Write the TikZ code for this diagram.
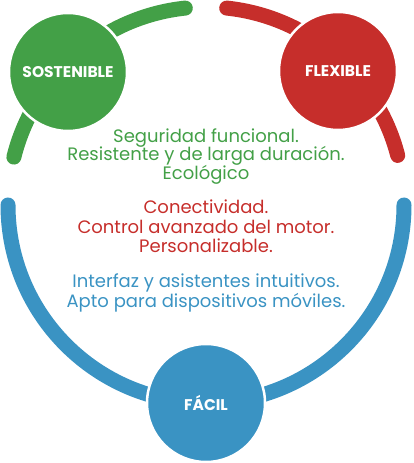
\documentclass[tikz,border=0pt]{standalone}
\usepackage{fontspec}
\usetikzlibrary{calc}
\setmainfont{Poppins}
\definecolor{cgreen}{HTML}{43A047}
\definecolor{cred}{HTML}{C62E2B}
\definecolor{cblue}{HTML}{3A93C3}
\tikzset{
  ringarc/.style={line width=15pt, line cap=round},
  bubble/.style={circle, draw=white, line width=2.5pt, minimum size=118pt, inner sep=0pt,
     text=white, font=\fontsize{15.5}{17}\selectfont\bfseries},
  txtline/.style={anchor=base, inner sep=0pt, font=\fontsize{18}{20}\selectfont}
}
\begin{document}
\begin{tikzpicture}[x=1pt,y=1pt]
\useasboundingbox (0,0) rectangle (413,463);
\coordinate (c) at (206,258);
% arcs
\draw[ringarc, cgreen] ($(c)+(96:198)$) arc[start angle=96, end angle=166, radius=198];
\draw[ringarc, cred] ($(c)+(84:198)$) arc[start angle=84, end angle=14.5, radius=198];
\draw[ringarc, cblue] ($(c)+(180:198)$) arc[start angle=180, end angle=360, radius=198];
% bubbles
\node[bubble, fill=cgreen] (sost) at (68,391) {SOSTENIBLE};
\node[bubble, fill=cred] (flex) at (338,392) {FLEXIBLE};
\node[bubble, fill=cblue] (facil) at (206,60) {FÁCIL};
% texts
\node[txtline, text=cgreen] (g1) at (206,320.3) {Seguridad funcional.};
\node[txtline, text=cgreen] (g2) at (206,302) {Resistente y de larga duración.};
\node[txtline, text=cgreen] (g3) at (206,283.7) {Ecológico};
\node[txtline, text=cred] (r1) at (206,249) {Conectividad.};
\node[txtline, text=cred] (r2) at (206,229.5) {Control avanzado del motor.};
\node[txtline, text=cred] (r3) at (206,210) {Personalizable.};
\node[txtline, text=cblue] (b1) at (206,175) {Interfaz y asistentes intuitivos.};
\node[txtline, text=cblue] (b2) at (206,155) {Apto para dispositivos móviles.};
\end{tikzpicture}
\end{document}
